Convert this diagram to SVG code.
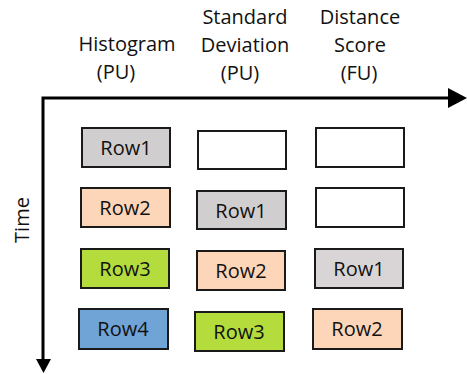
<svg xmlns="http://www.w3.org/2000/svg" width="467" height="374" viewBox="0 0 467 374">
<style>
.box{stroke:#1a1a1a;stroke-width:2}
.lbl{font-family:"Open Sans","Liberation Sans",sans-serif;font-size:20px;fill:#111;text-anchor:middle}
.hdr{font-family:"Open Sans","Liberation Sans",sans-serif;font-size:20px;fill:#111;text-anchor:middle}
.ax{stroke:#000;stroke-width:3;fill:none}
.gray{fill:#d0cece}.peach{fill:#fdd6b9}.green{fill:#b3dc3c}.blue{fill:#70a3d6}.white{fill:#fff}
</style>
<g id="connectors">
<path class="ax" d="M43,360 V98 H450"/>
<polygon points="448,88 467,98 448,108" fill="#000"/>
<polygon points="36,359 51,359 43.5,373" fill="#000"/>
</g>
<g id="headers">
<text class="hdr" x="127" y="51">Histogram</text>
<text class="hdr" x="116" y="79">(PU)</text>
<text class="hdr" x="245" y="24">Standard</text>
<text class="hdr" x="245" y="52">Deviation</text>
<text class="hdr" x="240" y="80">(PU)</text>
<text class="hdr" x="360" y="24">Distance</text>
<text class="hdr" x="360" y="52">Score</text>
<text class="hdr" x="359" y="80">(FU)</text>
<text class="hdr" transform="translate(29,220) rotate(-90)">Time</text>
</g>
<g id="h1"><rect class="box gray" x="82" y="128" width="88" height="39"/><text class="lbl" x="126" y="155">Row1</text></g>
<g id="h2"><rect class="box peach" x="81" y="188" width="89" height="39"/><text class="lbl" x="125" y="215">Row2</text></g>
<g id="h3"><rect class="box green" x="81" y="249" width="88" height="39"/><text class="lbl" x="125" y="276">Row3</text></g>
<g id="h4"><rect class="box blue" x="79" y="309" width="89" height="40"/><text class="lbl" x="123" y="336">Row4</text></g>
<g id="s1"><rect class="box white" x="198" y="131" width="88" height="38"/></g>
<g id="s2"><rect class="box gray" x="197" y="191" width="89" height="38"/><text class="lbl" x="241" y="218">Row1</text></g>
<g id="s3"><rect class="box peach" x="197" y="251" width="88" height="39"/><text class="lbl" x="241" y="278">Row2</text></g>
<g id="s4"><rect class="box green" x="195" y="312" width="89" height="39"/><text class="lbl" x="239" y="339">Row3</text></g>
<g id="d1"><rect class="box white" x="316" y="128" width="88" height="39"/></g>
<g id="d2"><rect class="box white" x="316" y="188" width="88" height="39"/></g>
<g id="d3"><rect class="box" fill="#d9d5d6" x="315" y="249" width="88" height="39"/><text class="lbl" x="359" y="276">Row1</text></g>
<g id="d4"><rect class="box peach" x="313" y="309" width="89" height="40"/><text class="lbl" x="357" y="336">Row2</text></g>
</svg>
